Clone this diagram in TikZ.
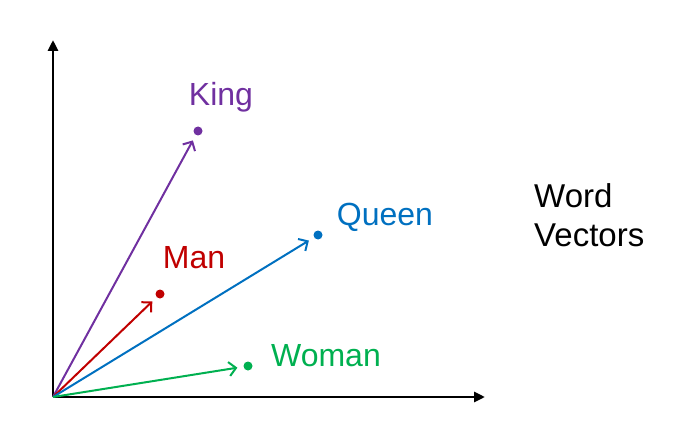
\documentclass[tikz,border=0pt]{standalone}
\usepackage{fontspec}
\setmainfont{Liberation Sans}
\usetikzlibrary{arrows.meta}
\definecolor{kpurple}{RGB}{112,48,160}
\definecolor{kred}{RGB}{192,0,0}
\definecolor{kblue}{RGB}{0,112,192}
\definecolor{kgreen}{RGB}{0,176,80}
\begin{document}
\begin{tikzpicture}[x=1pt,y=-1pt,
  axis/.style={line width=2.8pt,-{Triangle[length=11pt,width=10pt]}},
  vec/.style={line width=2pt,-{Straight Barb[length=7pt,width=14pt,line width=2pt]},shorten >=6pt},
  wdot/.style={circle,fill,inner sep=0pt,minimum size=9pt},
  lbl/.style={font=\fontsize{32}{36}\selectfont,inner sep=0pt}]
\useasboundingbox (0,0) rectangle (693,433);
\coordinate (O) at (53,397);
\coordinate (ytop) at (53,40);
\coordinate (xend) at (485,397);
\draw[axis] (O) -- (ytop);
\draw[axis] (O) -- (xend);
\node[wdot,kpurple] (king) at (198,131) {};
\node[wdot,kred] (man) at (160,294) {};
\node[wdot,kblue] (queen) at (318,235) {};
\node[wdot,kgreen] (woman) at (248,366) {};
\draw[vec,kpurple] (O) -- (king);
\draw[vec,kred] (O) -- (man);
\draw[vec,kblue] (O) -- (queen);
\draw[vec,kgreen] (O) -- (woman);
\node[lbl,kpurple] (tking) at (221,97) {King};
\node[lbl,kred] (tman) at (194,258) {Man};
\node[lbl,kblue] (tqueen) at (385,217) {Queen};
\node[lbl,kgreen] (twoman) at (326,356) {Woman};
\node[lbl,align=left,anchor=west,font=\fontsize{33}{39}\selectfont] (title) at (534,215) {Word\\Vectors};
\end{tikzpicture}
\end{document}
